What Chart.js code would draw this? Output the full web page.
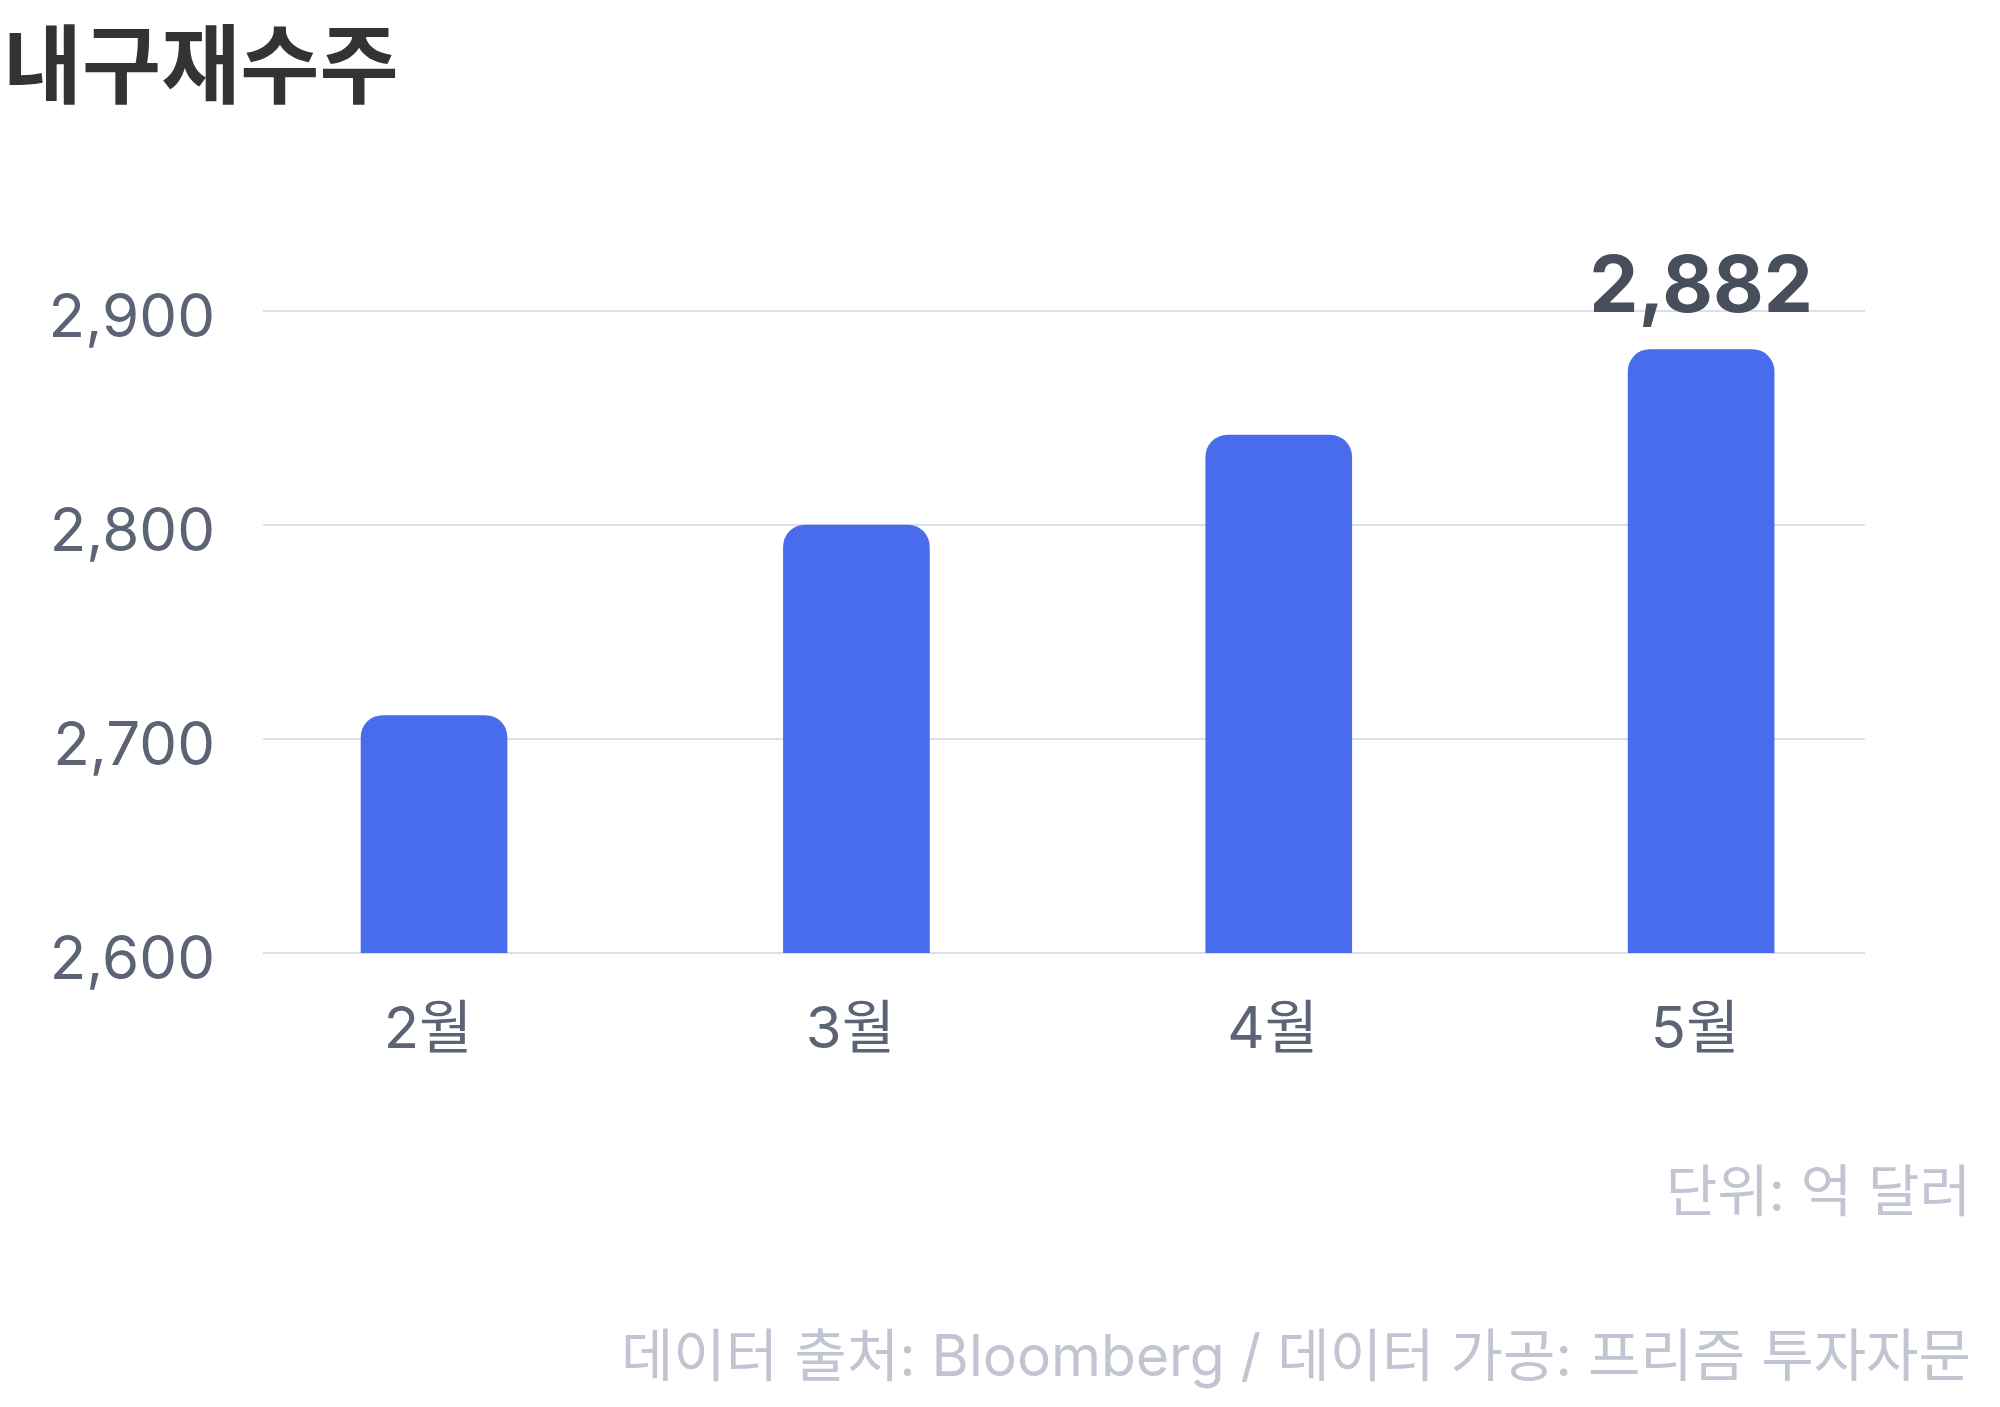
<!DOCTYPE html>
<html>
<head>
<meta charset="utf-8">
<script src="https://cdn.jsdelivr.net/npm/chart.js@4.4.1/dist/chart.umd.min.js"></script>
<style>
  html, body { margin: 0; padding: 0; background: #ffffff; }
  body { width: 2000px; height: 1407px; position: relative; overflow: hidden;
         font-family: Inter, "Noto Sans CJK KR", sans-serif; }
  #wrap { position: absolute; left: 0; top: 0; width: 2000px; height: 1407px; }
  .txt { position: absolute; white-space: nowrap; z-index: 2; }
  #title { left: 3px; top: 23px; font-size: 86px; line-height: 86px; font-weight: 700; color: #333333; }
  #unit { right: 29px; top: 1163px; font-size: 56px; line-height: 56px; color: #c1c5d1; }
  #source { right: 29px; top: 1327px; font-size: 57px; line-height: 57px; color: #c1c5d1; }
</style>
</head>
<body>
<div id="title" class="txt">내구재수주</div>
<div id="unit" class="txt">단위: 억 달러</div>
<div id="source" class="txt">데이터 출처: Bloomberg / 데이터 가공: 프리즘 투자자문</div>
<div id="wrap"><canvas id="c" width="2000" height="1407"></canvas></div>
<script>
// ---- data ----
const months = ['2월', '3월', '4월', '5월'];
const values = [2711, 2800, 2842, 2882];
const yTickValues = [2600, 2700, 2800, 2900];
const labeledIndex = [3];

const FONT = "Inter, 'Noto Sans CJK KR', sans-serif";

const valueLabelPlugin = {
  id: 'valueLabel',
  afterDatasetsDraw(chart) {
    const ctx = chart.ctx;
    const meta = chart.getDatasetMeta(0);
    ctx.save();
    ctx.font = "700 78px " + FONT;
    ctx.fillStyle = '#474f5c';
    ctx.textAlign = 'center';
    ctx.textBaseline = 'alphabetic';
    labeledIndex.forEach(i => {
      const el = meta.data[i];
      ctx.fillText(values[i].toLocaleString('en-US'), el.x, el.y - 38);
    });
    ctx.restore();
  }
};

const ctx = document.getElementById('c').getContext('2d');
new Chart(ctx, {
  type: 'bar',
  data: {
    datasets: [{
      data: values.map((v, i) => ({ x: i, y: v })),
      backgroundColor: '#486ceb',
      borderWidth: 0,
      borderSkipped: 'bottom',
      borderRadius: { topLeft: 22, topRight: 22, bottomLeft: 0, bottomRight: 0 },
      barThickness: 146
    }]
  },
  options: {
    responsive: false,
    animation: false,
    devicePixelRatio: 1,
    layout: { padding: { left: 0, right: 135, top: 311, bottom: 0 } },
    plugins: { legend: { display: false }, tooltip: { enabled: false }, title: { display: false } },
    scales: {
      x: {
        type: 'linear',
        min: -0.405,
        max: 3.388,
        offset: false,
        grid: { display: false, drawTicks: false },
        border: { display: false },
        afterBuildTicks(scale) { scale.ticks = months.map((m, i) => ({ value: i })); },
        afterFit(scale) { scale.height = 1407 - 953; },
        ticks: {
          autoSkip: false,
          maxRotation: 0,
          padding: 43,
          labelOffset: -6,
          color: '#5b6375',
          font: { family: FONT, size: 58 },
          callback: (v) => months[v]
        }
      },
      y: {
        min: 2600,
        max: 2900,
        grid: { color: '#dcdfe8', lineWidth: 2, drawTicks: false },
        border: { display: false },
        afterBuildTicks(scale) { scale.ticks = yTickValues.map(v => ({ value: v })); },
        afterFit(scale) { scale.width = 263; },
        ticks: {
          padding: 48,
          labelOffset: 8,
          color: '#5b6375',
          font: { family: FONT, size: 60 },
          callback: (v) => Number(v).toLocaleString('en-US')
        }
      }
    }
  },
  plugins: [valueLabelPlugin]
});
</script>
</body>
</html>
